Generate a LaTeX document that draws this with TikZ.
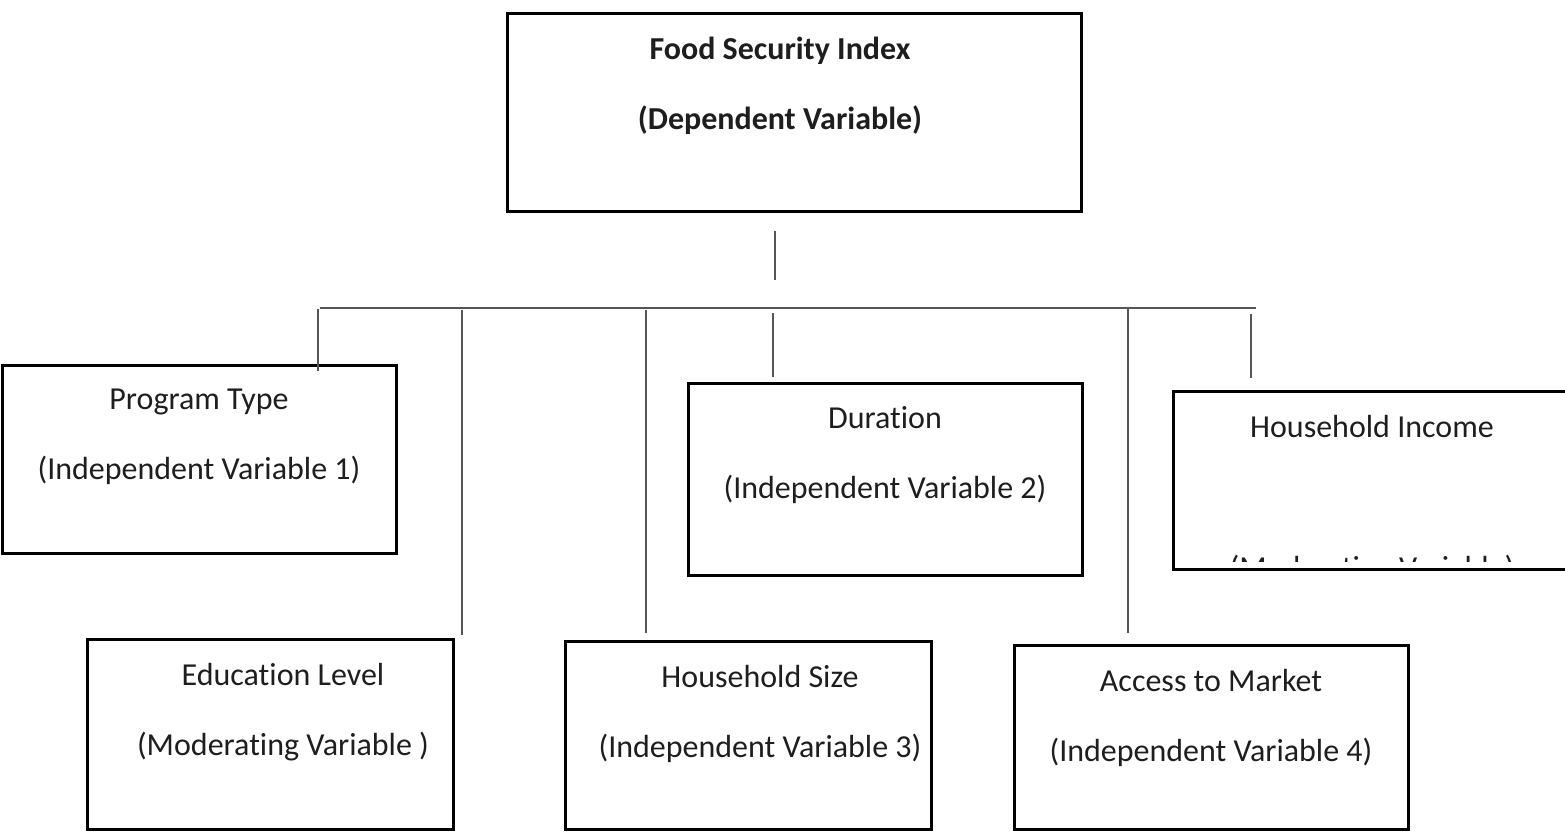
\documentclass[tikz,border=0pt]{standalone}
\usepackage{fontspec}
\setmainfont{Carlito}[Ligatures=NoCommon]
\usepackage{tikz}
\usetikzlibrary{positioning,calc}
\definecolor{fsblack}{RGB}{0,0,0}
\definecolor{fsgray}{RGB}{85,85,85}
\definecolor{fstext}{RGB}{30,30,30}

\begin{document}
\begin{tikzpicture}[x=0.5pt,y=-0.5pt,
        box/.style={draw=fsblack, line width=1.5pt, inner sep=0pt},
        link/.style={draw=fsgray, line width=1pt},
        lbl/.style={font=\fontsize{16}{35}\selectfont, text=fstext, align=center, inner sep=0pt}]
    \useasboundingbox (0,0) rectangle (1565,833);

    % boxes
    \node[box, minimum width=287pt, minimum height=99pt] (fsi) at (794,113) {};
    \node[box, minimum width=197pt, minimum height=94pt] (ptype) at (199,460) {};
    \node[box, minimum width=197pt, minimum height=96pt] (dur) at (885,480) {};
    \node[box, minimum width=199pt, minimum height=89pt] (inc) at (1372,481) {};
    \node[box, minimum width=183pt, minimum height=95pt] (edu) at (270,735) {};
    \node[box, minimum width=183pt, minimum height=94pt] (size) at (748,736) {};
    \node[box, minimum width=197pt, minimum height=92pt] (acc) at (1211,738) {};

    % texts
    \node[lbl, below=12pt of fsi.north, xshift=-7pt] (fsi text)
        {\textbf{Food Security Index}\\\textbf{(Dependent Variable)}};
    \node[lbl, below=12pt of ptype.north] (ptype text)
        {Program Type\\(Independent Variable 1)};
    \node[lbl, below=12pt of dur.north] (dur text)
        {Duration\\(Independent Variable 2)};
    \node[lbl, below=12pt of inc.north] (inc text) {Household Income};
    \begin{scope}
        \clip (inc.north west) rectangle ([yshift=5pt]inc.south east);
        \node[lbl, below=82pt of inc.north] (inc note) {(Moderating Variable)};
    \end{scope}
    \node[lbl, below=12pt of edu.north, xshift=6.5pt] (edu text)
        {Education Level\\(Moderating Variable )};
    \node[lbl, below=12pt of size.north, xshift=6pt] (size text)
        {Household Size\\(Independent Variable 3)};
    \node[lbl, below=12pt of acc.north] (acc text)
        {Access to Market\\(Independent Variable 4)};

    % connectors
    \draw[link] ($(fsi.south)+(-19,18)$) -- ++(0,49);
    \coordinate (bar w) at (320,308);
    \coordinate (bar e) at (1256,308);
    \draw[link] (bar w) -- (bar e);
    \coordinate (d1) at (318,309);
    \coordinate (d2) at (462,310);
    \coordinate (d3) at (646,310);
    \coordinate (d4) at (773,313);
    \coordinate (d5) at (1128,308);
    \coordinate (d6) at (1251,314);
    \draw[link] (d1) -- ($(d1 |- ptype.north)+(0,7)$);
    \draw[link] (d2) -- ($(d2 |- edu.north)+(0,-3)$);
    \draw[link] (d3) -- ($(d3 |- size.north)+(0,-7)$);
    \draw[link] (d4) -- ($(d4 |- dur.north)+(0,-5)$);
    \draw[link] (d5) -- ($(d5 |- acc.north)+(0,-11)$);
    \draw[link] (d6) -- ($(d6 |- inc.north)+(0,-12)$);
\end{tikzpicture}
\end{document}
